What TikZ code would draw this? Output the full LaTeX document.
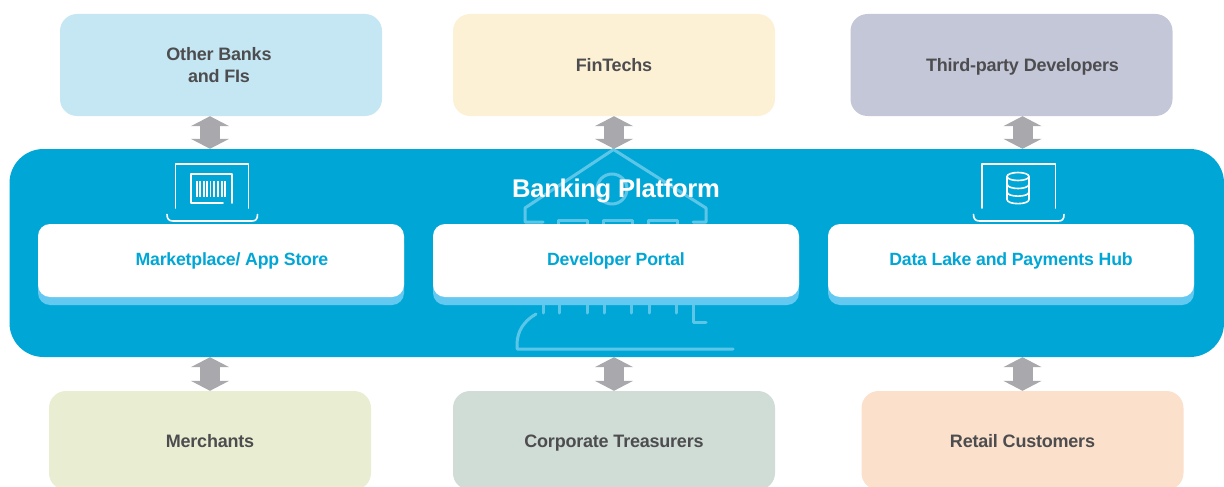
\documentclass[tikz,border=0pt]{standalone}
\usepackage{fontspec}
\setmainfont[LetterSpace=-1.2]{Liberation Sans}
\usepackage{xcolor}
\usetikzlibrary{arrows.meta}
\definecolor{platblue}{HTML}{00A7D6}
\definecolor{shadeblue}{HTML}{63C9F0}
\definecolor{bankline}{HTML}{5CC6E8}
\definecolor{arrowgray}{HTML}{A9A9AD}
\definecolor{labelgray}{HTML}{4D4D4F}
\tikzset{
  topbox/.style={rounded corners=17pt, minimum width=322pt, minimum height=102pt, inner sep=0pt,
    text height=13pt, text depth=0pt, text=labelgray, font=\fontsize{18}{22}\selectfont\bfseries},
  lowbox/.style={topbox, minimum height=99pt},
  whitebox/.style={fill=white, rounded corners=12pt, minimum width=366pt, minimum height=73pt, inner sep=0pt,
    text height=13pt, text depth=3pt, text=platblue, font=\fontsize{17.7}{22}\selectfont\bfseries},
  shadebox/.style={fill=shadeblue, rounded corners=12pt, minimum width=366pt, minimum height=73pt},
  updown/.style={arrowgray, line width=20pt, line cap=butt, {Triangle[width=38pt,length=10pt]}-{Triangle[width=38pt,length=10pt]}},
  bank/.style={bankline, line width=3pt},
  icon/.style={white, line width=1.6pt}
}
\begin{document}
\begin{tikzpicture}[x=1pt, y=-1pt, line cap=round, line join=round]
  \useasboundingbox (0,0) rectangle (1224,487);
  \clip (0,0) rectangle (1224,487);
  %--- Platform
    \node[fill=platblue, rounded corners=34pt, minimum width=1214.5pt, minimum height=208pt, inner sep=0pt] (platform) at (616.75,253) {};
  %--- Bank
    \draw[bank] (543,222) -- (525,222) -- (525,208) -- (613.5,149.5) -- (706,208) -- (706,222) -- (693,222);
    \draw[bank] (612,189) circle (15pt);
    \draw[bank] (558,224) -- (558,220) -- (587,220) -- (587,224);
    \draw[bank] (603,224) -- (603,220) -- (632,220) -- (632,224);
    \draw[bank] (648,224) -- (648,220) -- (677,220) -- (677,224);
    \foreach \x in {543,559,587,604,631,649,676}
      \draw[bank] (\x,303) -- (\x,313);
    \draw[bank] (693,303) -- (693,322) -- (706,322);
    \draw[bank] (536,314) .. controls (524,321) and (517,331) .. (517,345) -- (517,349) -- (733,349);
  %--- Title
    \node[white, text height=18pt, text depth=0pt, font=\fontsize{25.6}{30}\selectfont\bfseries] (title) at (616,188) {Banking Platform};
  %--- Marketplace
    \node[shadebox] (marketshade) at (221,268.5) {};
    \node[whitebox] (market) at (221,260.5) {\hspace*{22pt}Marketplace/ App Store};
  %--- Portal
    \node[shadebox] (portalshade) at (616,268.5) {};
    \node[whitebox] (portal) at (616,260.5) {Developer Portal};
  %--- Data lake
    \node[shadebox] (lakeshade) at (1011,268.5) {};
    \node[whitebox] (lake) at (1011,260.5) {Data Lake and Payments Hub};
  %--- Upper row
    \node[topbox, align=center, text height=, text depth=, fill={rgb,255:red,197;green,230;blue,243}] (banks) at (221,65) {\hspace*{-4pt}Other Banks\\\hspace*{-4pt}and FIs};
    \node[topbox, fill={rgb,255:red,253;green,241;blue,213}] (fintechs) at (614,65) {FinTechs};
    \node[topbox, fill={rgb,255:red,196;green,199;blue,216}] (developers) at (1011.5,65) {\hspace*{22pt}Third-party Developers};
  %--- Lower row
    \node[lowbox, fill={rgb,255:red,233;green,238;blue,210}] (merchants) at (210,440.5) {Merchants};
    \node[lowbox, fill={rgb,255:red,207;green,221;blue,214}] (treasurers) at (614,440.5) {Corporate Treasurers};
    \node[lowbox, fill={rgb,255:red,251;green,224;blue,203}] (customers) at (1022.5,440.5) {Retail Customers};
  %--- Arrows
    \coordinate (left) at (210,0);
    \coordinate (mid) at (614,0);
    \coordinate (right) at (1022.5,0);
    \draw[updown] (banks.south -| left) -- (platform.north -| left);
    \draw[updown] (fintechs.south -| mid) -- (platform.north -| mid);
    \draw[updown] (developers.south -| right) -- (platform.north -| right);
    \draw[updown] (platform.south -| left) -- (merchants.north -| left);
    \draw[updown] (platform.south -| mid) -- (treasurers.north -| mid);
    \draw[updown] (platform.south -| right) -- (customers.north -| right);
  %--- Laptop, barcode
    \draw[icon] (175.5,208) -- (175.5,164) -- (248.5,164) -- (248.5,208);
    \draw[icon] (167,214.5) .. controls (167,219) and (169,221) .. (173,221) -- (252,221) .. controls (256,221) and (257.5,219) .. (257.5,214.5);
    \draw[icon] (223,203) -- (191,203) -- (191,174) -- (232,174) -- (232,203);
    \foreach \x/\w in {197/1.5,200/1.5,204/1.5,207/1.5,210.5/1.5,214/2,218/2.5,222/1.5,225/2}
      \draw[white, line width=\w pt, line cap=butt] (\x,181) -- (\x,197);
  %--- Laptop, database
    \draw[icon] (982,208) -- (982,164) -- (1055.5,164) -- (1055.5,208);
    \draw[icon] (973.5,214.5) .. controls (973.5,219) and (975.5,221) .. (979.5,221) -- (1058.5,221) .. controls (1062.5,221) and (1064,219) .. (1064,214.5);
    \draw[icon] (1018,176.5) ellipse (11pt and 4pt);
    \draw[icon] (1007,176.5) -- (1007,199.5) .. controls (1007,205) and (1029,205) .. (1029,199.5) -- (1029,176.5);
    \draw[icon] (1007,184) .. controls (1007,190) and (1029,190) .. (1029,184);
    \draw[icon] (1007,192) .. controls (1007,197.500) and (1029,197.500) .. (1029,192);
\end{tikzpicture}
\end{document}
